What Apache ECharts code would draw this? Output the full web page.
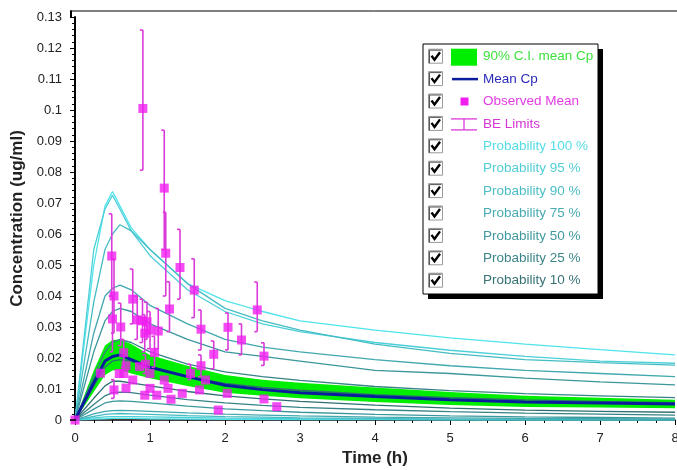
<!DOCTYPE html>
<html><head><meta charset="utf-8">
<script src="https://cdn.jsdelivr.net/npm/echarts@6/dist/echarts.min.js"></script>
<style>html,body{margin:0;padding:0;background:#fff}#c{width:677px;height:470px}</style>
</head><body><div id="c"></div>
<script>
// ---------- DATA ----------
const timeGrid = [0, 0.25, 0.4, 0.5, 0.6, 0.75, 1, 1.5, 2, 2.5, 3, 4, 5, 6, 7, 8];

const ciUpper = [0, 0.016, 0.024, 0.0258, 0.026, 0.0245, 0.021, 0.0175, 0.0145, 0.013, 0.012, 0.0105, 0.009, 0.0078, 0.0072, 0.0065];
const ciLower = [0, 0.009, 0.0145, 0.016, 0.0162, 0.015, 0.0135, 0.011, 0.0088, 0.0078, 0.007, 0.0058, 0.0048, 0.0042, 0.004, 0.0038];
const meanCp  = [0, 0.012, 0.019, 0.0205, 0.021, 0.0195, 0.017, 0.014, 0.0112, 0.0098, 0.0088, 0.0076, 0.0065, 0.0058, 0.0055, 0.0052];

const prob100Upper = [0, 0.050, 0.069, 0.0737, 0.069, 0.062, 0.055, 0.044, 0.0385, 0.035, 0.032, 0.029, 0.0265, 0.0245, 0.0227, 0.021];
const prob95Upper  = [0, 0.055, 0.068, 0.0725, 0.068, 0.061, 0.053, 0.042, 0.035, 0.031, 0.0285, 0.025, 0.0225, 0.0205, 0.019, 0.0183];
const prob90Upper  = [0, 0.038, 0.055, 0.060, 0.063, 0.061, 0.055, 0.044, 0.036, 0.032, 0.029, 0.0245, 0.0215, 0.0195, 0.0185, 0.0177];
const prob75Upper  = [0, 0.028, 0.040, 0.0425, 0.0435, 0.042, 0.037, 0.031, 0.026, 0.0235, 0.022, 0.0195, 0.0175, 0.016, 0.015, 0.014];
const prob50Upper  = [0, 0.022, 0.032, 0.035, 0.036, 0.035, 0.031, 0.026, 0.022, 0.0205, 0.019, 0.016, 0.015, 0.0135, 0.0123, 0.0113];
const prob25Upper  = [0, 0.014, 0.022, 0.025, 0.026, 0.025, 0.022, 0.018, 0.0155, 0.014, 0.0128, 0.0108, 0.0095, 0.0085, 0.0078, 0.0072];
const prob10Upper  = [0, 0.011, 0.017, 0.019, 0.0195, 0.019, 0.017, 0.0138, 0.0118, 0.0105, 0.0096, 0.0082, 0.0072, 0.0065, 0.006, 0.0056];
const prob10Lower  = [0, 0.007, 0.011, 0.0125, 0.0125, 0.012, 0.011, 0.0092, 0.0078, 0.0068, 0.006, 0.0048, 0.0038, 0.0032, 0.0028, 0.0025];
const prob25Lower  = [0, 0.005, 0.0078, 0.0088, 0.009, 0.0088, 0.008, 0.0066, 0.0055, 0.0047, 0.0041, 0.0033, 0.0027, 0.0022, 0.0019, 0.0016];
const prob50Lower  = [0, 0.0035, 0.0055, 0.006, 0.0062, 0.006, 0.0055, 0.0045, 0.0036, 0.003, 0.0025, 0.0018, 0.0013, 0.001, 0.0008, 0.0006];
const prob75Lower  = [0, 0.002, 0.0028, 0.003, 0.0031, 0.003, 0.0028, 0.0023, 0.0019, 0.0016, 0.0013, 0.0009, 0.0007, 0.0005, 0.0004, 0.0003];
const prob90Lower  = [0, 0.0012, 0.0018, 0.002, 0.0021, 0.002, 0.0018, 0.0014, 0.0011, 0.0009, 0.0007, 0.0005, 0.0003, 0.0002, 0.0001, 0.0001];
const prob95Lower  = [0, 0.0007, 0.001, 0.0011, 0.0011, 0.0011, 0.001, 0.0008, 0.0006, 0.0005, 0.0004, 0.0003, 0.0002, 0.0001, 0.0001, 0.0001];
const prob100Lower = [0, 0.0003, 0.0004, 0.0005, 0.0005, 0.0005, 0.0004, 0.0003, 0.0002, 0.0002, 0.0001, 0.0001, 0, 0, 0, 0];

const obsTime = [0, 0.34, 0.49, 0.52, 0.50, 0.61, 0.52, 0.65, 0.68, 0.59, 0.65, 0.77, 0.68, 0.77, 0.83, 0.90, 0.96, 0.93, 1.00, 1.11, 1.06, 0.86, 0.94, 1.00, 0.93, 1.00, 1.09, 0.905, 1.19, 1.21, 1.26, 1.19, 1.24, 1.28, 1.40, 1.43, 1.54, 1.59, 1.68, 1.68, 1.66, 1.74, 1.85, 1.91, 2.03, 2.04, 2.22, 2.43, 2.52, 2.52, 2.69];
const obsMean = [0, 0.0151, 0.0529, 0.040, 0.0326, 0.030, 0.0097, 0.0217, 0.0175, 0.015, 0.015, 0.0129, 0.0103, 0.039, 0.0323, 0.032, 0.0317, 0.028, 0.029, 0.0287, 0.0218, 0.0172, 0.018, 0.015, 0.008, 0.0102, 0.008, 0.1005, 0.0748, 0.0538, 0.0358, 0.0129, 0.0102, 0.0067, 0.0492, 0.0086, 0.015, 0.0419, 0.0293, 0.0175, 0.0097, 0.0129, 0.0212, 0.0032, 0.0086, 0.0299, 0.0258, 0.0355, 0.0206, 0.0068, 0.0043];
const obsLow  = [null, null, 0.040, 0.028, 0.022, 0.024, 0.007, 0.017, null, null, null, null, null, 0.031, 0.026, 0.025, 0.026, 0.022, 0.023, 0.023, 0.017, null, 0.015, null, null, null, null, 0.0806, 0.055, 0.040, 0.0285, null, null, null, 0.039, null, 0.013, 0.033, 0.0226, 0.014, null, null, 0.0165, null, null, 0.0226, 0.021, 0.0285, 0.0176, null, null];
const obsHigh = [null, null, 0.0665, 0.052, 0.040, 0.0377, 0.013, 0.026, null, null, null, null, null, 0.0487, 0.040, 0.039, 0.038, 0.034, 0.035, 0.036, 0.027, null, 0.021, null, null, null, null, 0.1258, 0.0935, 0.067, 0.0446, null, null, null, 0.0615, null, 0.018, 0.052, 0.0355, 0.021, null, null, 0.0255, null, null, 0.0345, 0.031, 0.0445, 0.0249, null, null];

const legendLabels = ["90% C.I. mean Cp", "Mean Cp", "Observed Mean", "BE Limits",
  "Probability 100 %", "Probability 95 %", "Probability 90 %", "Probability 75 %",
  "Probability 50 %", "Probability 25 %", "Probability 10 %"];

// ---------- STYLE ----------
const probColors = ['#4FE3EA', '#4BCFD8', '#45BCC3', '#40A8AE', '#3B979B', '#368386', '#2F6F72'];
const legendTextColors = ['#3FE03F', '#2B2BB8', '#E23CE2', '#D535D5',
  '#55DCE4', '#52CDD5', '#4DBEC5', '#47ABB0', '#42999D', '#3C8588', '#377275'];
const probUpper = [prob100Upper, prob95Upper, prob90Upper, prob75Upper, prob50Upper, prob25Upper, prob10Upper];
const probLower = [prob100Lower, prob95Lower, prob90Lower, prob75Lower, prob50Lower, prob25Lower, prob10Lower];
const FONT = 'Liberation Sans, Arial, sans-serif';

const pair = (ys) => timeGrid.map((t, i) => [t, ys[i]]);

const series = [];
series.push({ type: 'custom', name: '90% C.I. mean Cp', z: 1, silent: true,
  data: timeGrid.map((t, i) => [t, ciLower[i], ciUpper[i]]), encode: { x: 0, y: [1, 2] },
  renderItem: function (params, api) {
    if (params.dataIndex !== 0) return null;
    const up = [], lo = [];
    for (let i = 0; i < timeGrid.length; i++) {
      up.push(api.coord([timeGrid[i], ciUpper[i]]));
      lo.push(api.coord([timeGrid[i], ciLower[i]]));
    }
    return { type: 'polygon', shape: { points: up.concat(lo.reverse()) }, style: { fill: '#00EE00' } };
  } });
probUpper.forEach((ys, k) => series.push({ type: 'line', name: legendLabels[4 + k] + ' upper', data: pair(ys), symbol: 'none',
  lineStyle: { color: probColors[k], width: 1.3 }, z: 2 }));
probLower.forEach((ys, k) => series.push({ type: 'line', name: legendLabels[4 + k] + ' lower', data: pair(ys), symbol: 'none',
  lineStyle: { color: probColors[k], width: 1.3 }, z: 2 }));
series.push({ type: 'line', name: 'Mean Cp', data: pair(meanCp), symbol: 'none',
  lineStyle: { color: '#0B1C9C', width: 3 }, z: 3 });

const barData = [];
obsTime.forEach((t, i) => { if (obsLow[i] != null) barData.push([t, obsLow[i], obsHigh[i]]); });
series.push({ type: 'custom', name: 'BE Limits', data: barData, encode: { x: 0, y: [1, 2] }, z: 4,
  renderItem: function (params, api) {
    const x = api.value(0), lo = api.value(1), hi = api.value(2);
    const a = api.coord([x, lo]), b = api.coord([x, hi]);
    const st = { stroke: '#DA3ADA', lineWidth: 1.6 };
    return { type: 'group', children: [
      { type: 'line', shape: { x1: a[0], y1: a[1], x2: b[0], y2: b[1] }, style: st },
      { type: 'line', shape: { x1: b[0] - 3, y1: b[1], x2: b[0], y2: b[1] }, style: st },
      { type: 'line', shape: { x1: a[0] - 3, y1: a[1], x2: a[0], y2: a[1] }, style: st }
    ] };
  } });
series.push({ type: 'scatter', name: 'Observed Mean', data: obsTime.map((t, i) => [t, obsMean[i]]),
  symbol: 'rect', symbolSize: 9, itemStyle: { color: '#F01FF0' }, z: 5 });

// ---------- FRAME + LEGEND (graphic) ----------
const graphic = [];
graphic.push({ type: 'line', shape: { x1: 70, y1: 11, x2: 677, y2: 11 }, style: { stroke: '#000', lineWidth: 1 }, z: 9 });
graphic.push({ type: 'line', shape: { x1: 71, y1: 10.5, x2: 71, y2: 18 }, style: { stroke: '#000', lineWidth: 2 }, z: 9 });
graphic.push({ type: 'line', shape: { x1: 70, y1: 420, x2: 76, y2: 420 }, style: { stroke: '#000', lineWidth: 1.5 }, z: 9 });

const LX = 423, LY = 44, LW = 175, LH = 250;
graphic.push({ type: 'rect', shape: { x: LX + 5, y: LY + 5, width: LW, height: LH }, style: { fill: '#000' }, z: 10 });
graphic.push({ type: 'rect', shape: { x: LX, y: LY, width: LW, height: LH }, style: { fill: '#fff', stroke: '#000', lineWidth: 1 }, z: 11 });
legendLabels.forEach((lab, i) => {
  const cy = 56.7 + i * 22.4;
  graphic.push({ type: 'rect', shape: { x: 428.5, y: cy - 7.5, width: 14, height: 14 }, style: { fill: '#fff', stroke: '#9A9A9A', lineWidth: 1 }, z: 12 });
  graphic.push({ type: 'polyline', shape: { points: [[429.5, cy + 6.5], [429.5, cy - 6.5], [441.5, cy - 6.5]] }, style: { stroke: '#555', lineWidth: 1, fill: null }, z: 12 });
  graphic.push({ type: 'polyline', shape: { points: [[431.5, cy - 1], [434.5, cy + 3], [440, cy - 4.5]] }, style: { stroke: '#000', lineWidth: 2.4, fill: null }, z: 13 });
  if (i === 0) graphic.push({ type: 'rect', shape: { x: 451, y: cy - 8, width: 26, height: 17 }, style: { fill: '#00EE00' }, z: 12 });
  if (i === 1) graphic.push({ type: 'line', shape: { x1: 452, y1: cy, x2: 478, y2: cy }, style: { stroke: '#0B1C9C', lineWidth: 2.5 }, z: 12 });
  if (i === 2) graphic.push({ type: 'rect', shape: { x: 460.5, y: cy - 4, width: 8, height: 8 }, style: { fill: '#F01FF0' }, z: 12 });
  if (i === 3) {
    const st = { stroke: '#D93AD9', lineWidth: 1.3 };
    graphic.push({ type: 'line', shape: { x1: 451, y1: cy - 5, x2: 477, y2: cy - 5 }, style: st, z: 12 });
    graphic.push({ type: 'line', shape: { x1: 451, y1: cy + 6, x2: 477, y2: cy + 6 }, style: st, z: 12 });
    graphic.push({ type: 'line', shape: { x1: 464, y1: cy - 5, x2: 464, y2: cy + 6 }, style: st, z: 12 });
  }
  graphic.push({ type: 'text', x: 483, y: cy, style: { text: lab, fill: legendTextColors[i], font: '13.5px ' + FONT, textVerticalAlign: 'middle', verticalAlign: 'middle' }, z: 12 });
});

// ---------- CHART ----------
const chart = echarts.init(document.getElementById('c'), null, { renderer: 'canvas' });
chart.setOption({
  animation: false,
  backgroundColor: '#fff',
  grid: { left: 75, right: 2, top: 17, bottom: 50, containLabel: false, outerBoundsMode: 'none' },
  xAxis: {
    type: 'value', min: 0, max: 8, interval: 1,
    name: 'Time (h)', nameLocation: 'middle', nameGap: 29,
    nameTextStyle: { fontFamily: FONT, fontSize: 17, fontWeight: 'bold', color: '#222' },
    axisLine: { show: true, onZero: false, lineStyle: { color: '#000', width: 1.5 } },
    axisTick: { show: true, length: 5, lineStyle: { color: '#000' } },
    minorTick: { show: true, splitNumber: 4, length: 3, lineStyle: { color: '#000' } },
    splitLine: { show: false },
    axisLabel: { fontFamily: FONT, fontSize: 13, color: '#222', margin: 12 }
  },
  yAxis: {
    type: 'value', min: 0, max: 0.13, interval: 0.01, offset: 4,
    name: 'Concentration (ug/ml)', nameLocation: 'middle', nameGap: 45,
    nameTextStyle: { fontFamily: FONT, fontSize: 17, fontWeight: 'bold', color: '#222' },
    axisLine: { show: true, lineStyle: { color: '#000', width: 2 } },
    axisTick: { show: true, length: 5, lineStyle: { color: '#000' } },
    minorTick: { show: true, splitNumber: 5, length: 3, lineStyle: { color: '#000' } },
    splitLine: { show: false },
    axisLabel: { fontFamily: FONT, fontSize: 13, color: '#222', margin: 9,
      formatter: v => String(+v.toFixed(3)) }
  },
  series: series,
  graphic: graphic
});
</script></body></html>
